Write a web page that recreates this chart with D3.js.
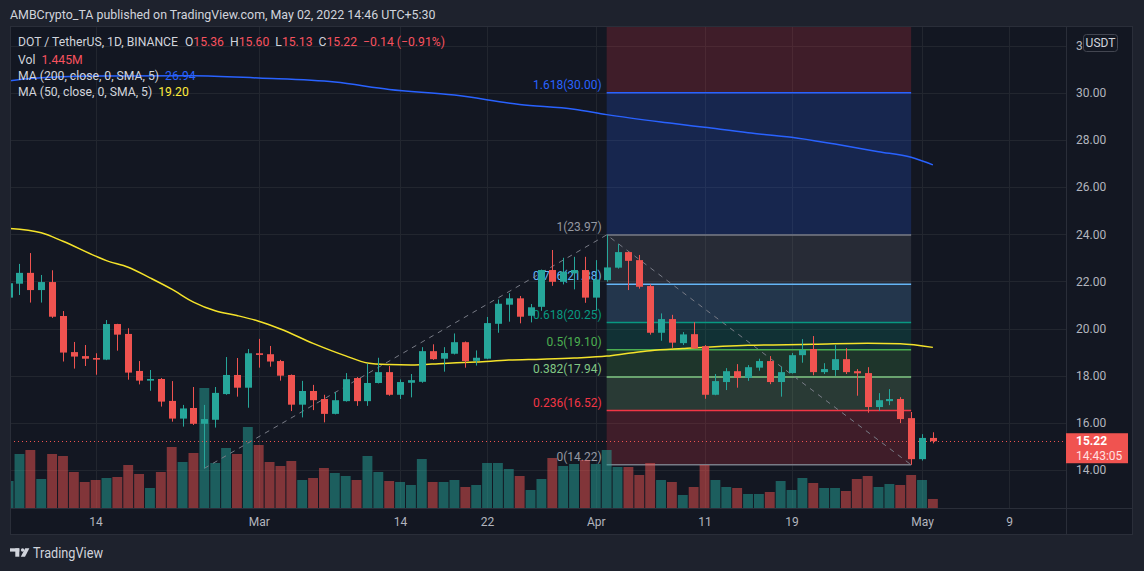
<!DOCTYPE html>
<html><head><meta charset="utf-8">
<script src="https://cdn.jsdelivr.net/npm/d3@7"></script>
<style>
html,body{margin:0;padding:0;background:#1e222d;}
svg{display:block;font-family:Roboto,"Noto Sans",sans-serif;}
</style></head><body>
<svg id="c" width="1144" height="571"></svg>
<script>
// ---------------- DATA ----------------
const firstDay = "2022-02-06";
const lastDay = "2022-05-02";
const openP = [21.31,21.90,22.36,21.63,21.97,20.53,19.00,18.83,18.75,18.68,20.19,19.77,18.20,17.79,17.86,16.93,16.18,16.63,15.96,16.13,17.22,18.03,17.49,
 18.95,18.91,18.62,18.03,16.77,17.35,17.01,16.38,16.92,17.90,16.92,17.69,18.15,17.19,17.70,17.74,19.04,18.72,18.93,19.42,18.63,18.72,20.20,21.01,21.28,20.54,20.92,22.48,21.98,22.34,22.48,
 21.31,22.05,22.58,23.24,22.90,21.80,19.82,20.40,19.38,19.76,19.25,17.19,17.73,18.19,17.91,18.34,18.62,17.73,18.11,18.87,19.13,18.15,18.24,18.70,18.19,18.11,16.67,16.92,17.01,16.20,
 14.46,15.36];
const highP = [22.05,22.74,23.20,22.27,22.47,20.74,19.43,19.30,18.95,20.36,20.20,20.01,18.62,18.24,17.90,17.77,16.76,17.52,16.76,17.52,18.79,18.75,19.13,
 19.56,19.26,18.67,18.05,17.78,17.61,17.19,17.30,18.11,17.94,18.51,18.76,18.41,17.84,18.07,19.21,19.33,19.21,19.79,19.45,19.07,20.49,21.23,21.50,21.38,21.04,22.50,23.33,23.00,23.04,23.04,
 22.90,23.97,23.58,23.26,23.12,21.87,20.64,20.58,19.85,20.27,19.30,18.07,18.32,18.49,18.45,18.72,18.83,18.38,18.96,19.55,19.68,18.53,19.30,19.17,18.28,18.36,17.26,17.43,17.09,16.46,
 15.52,15.60];
const lowP = [20.79,21.42,21.10,21.10,20.45,18.60,18.30,18.41,18.04,18.66,19.06,17.83,17.63,17.36,16.69,16.05,15.84,15.91,14.07,15.80,17.19,17.11,16.64,
 18.34,18.38,17.79,16.50,16.23,16.54,16.02,16.36,16.90,16.72,16.72,17.67,17.15,17.01,17.08,17.70,18.67,18.17,18.90,18.34,18.43,18.70,19.82,20.29,20.22,20.26,20.75,21.81,21.87,21.66,21.09,
 20.78,21.98,22.54,21.63,21.69,19.74,19.48,19.18,19.30,19.14,17.02,17.17,17.39,17.49,17.78,18.21,17.64,17.11,18.09,18.55,18.02,18.07,17.99,18.07,17.15,16.43,16.51,16.75,15.99,14.22,
 14.40,15.13];
const closeP = [21.92,22.36,21.63,21.97,20.50,18.98,18.81,18.72,18.68,20.19,19.74,18.13,17.79,17.86,16.90,16.18,16.61,15.96,16.16,17.27,18.03,17.49,18.95,
 18.88,18.60,18.00,16.77,17.35,16.96,16.38,16.96,17.85,16.92,17.69,18.15,17.19,17.73,17.81,19.04,18.70,18.96,19.42,18.62,18.76,20.23,21.05,21.28,20.50,20.90,22.48,21.98,22.41,22.48,21.31,
 22.08,22.59,23.24,22.87,21.77,19.82,20.40,19.40,19.75,19.16,17.19,17.77,18.19,17.91,18.36,18.62,17.73,18.15,18.87,19.09,18.15,18.28,18.70,18.15,18.10,16.67,16.96,17.01,16.16,14.46,
 15.36,15.22];
const volumeM = [4.32,8.64,9.28,4.64,8.64,8.32,5.76,4.16,4.48,4.80,4.96,6.88,5.44,3.20,5.76,9.76,7.36,8.80,19.20,7.20,9.60,8.64,12.96,
 10.08,7.36,6.72,7.52,4.48,4.80,6.40,5.60,5.12,4.48,8.32,5.76,4.32,4.16,3.68,7.84,4.16,4.16,4.48,3.36,3.68,7.20,7.20,6.24,5.12,2.88,4.64,8.00,6.72,7.04,7.68,
 7.04,9.28,6.56,6.56,5.28,7.20,4.48,4.16,2.08,3.36,6.88,4.48,3.36,3.20,2.24,2.24,2.56,4.32,2.88,4.80,4.00,3.20,3.20,2.72,4.64,5.12,3.36,3.84,3.68,5.28,
 4.48,1.445];

const ma200Dates = ["2022-02-06","2022-02-08","2022-02-14","2022-02-23","2022-03-01","2022-03-08","2022-03-13","2022-03-19","2022-03-25","2022-03-30","2022-04-02","2022-04-08","2022-04-11","2022-04-15","2022-04-19","2022-04-23","2022-04-27","2022-04-30","2022-05-02"];
const ma200Vals  = [30.50,30.60,30.71,30.72,30.62,30.45,30.14,29.90,29.50,29.30,29.07,28.70,28.53,28.30,28.11,27.82,27.50,27.26,26.94];
const ma50Dates = ["2022-02-06","2022-02-09","2022-02-11","2022-02-14","2022-02-15","2022-02-17","2022-02-19","2022-02-21","2022-02-23","2022-02-25","2022-02-27","2022-03-01","2022-03-03","2022-03-06","2022-03-09","2022-03-11","2022-03-13","2022-03-15","2022-03-18","2022-03-21","2022-03-24","2022-03-27","2022-03-30","2022-04-02","2022-04-04","2022-04-06","2022-04-09","2022-04-15","2022-04-21","2022-04-26","2022-04-29","2022-05-02"];
const ma50Vals  = [24.25,24.06,23.70,23.07,22.88,22.60,22.15,21.67,21.12,20.75,20.55,20.31,19.98,19.37,18.84,18.54,18.47,18.45,18.52,18.58,18.66,18.70,18.75,18.83,18.95,19.06,19.15,19.29,19.33,19.38,19.35,19.20];

const fibRatios = ["0","0.236","0.382","0.5","0.618","0.786","1","1.618"];
const fibPrices = [14.22,16.52,17.94,19.10,20.25,21.88,23.97,30.00];
const fibColors = ["#787b86","#f23645","#81c784","#4caf50","#089981","#64b5f6","#787b86","#2962ff"];
const fibTopRatio = 2.618, fibTopColor = "#f23645";
const fibStart = "2022-04-02", fibEnd = "2022-04-30";

const trendDates = ["2022-02-24","2022-04-02","2022-04-30"];
const trendPrices = [14.07,23.97,14.22];

const priceTicks = [14,16,18,20,22,24,26,28,30,32];
const timeTicks = ["2022-02-14","2022-03-01","2022-03-14","2022-03-22","2022-04-01","2022-04-11","2022-04-19","2022-05-01","2022-05-09"];
const lastPrice = 15.22, countdown = "14:43:05";

// ---------------- LAYOUT ----------------
const L = 10, R = 1066, T = 27, B = 508, AXR = 1133, AXB = 535;
const parse = d3.utcParse("%Y-%m-%d");
const days = d3.utcDay.range(parse(firstDay), d3.utcDay.offset(parse(lastDay), 1));
const bars = days.map((d, i) => ({d, o: openP[i], h: highP[i], l: lowP[i], c: closeP[i], v: volumeM[i]}));

const x = d3.scaleUtc().domain([parse("2022-02-06"), parse("2022-05-09")]).range([8.6, 1009.0]);
const y = d3.scaleLinear().domain([14, 30]).range([470.0, 92.7]);
const yv = d3.scaleLinear().domain([0, 19.2]).range([B, 388]);
const step = x(parse("2022-02-07")) - x(parse("2022-02-06"));

const UP = "#26a69a", DN = "#ef5350";
const svg = d3.select("#c");
svg.append("rect").attr("width", 1144).attr("height", 571).attr("fill", "#1e222d");
svg.append("rect").attr("x", L).attr("y", T).attr("width", AXR - L).attr("height", AXB - T).attr("fill", "#131722");

// header
svg.append("text").attr("x", 10).attr("y", 15).attr("dy", "0.35em").attr("fill", "#d1d4dc")
  .attr("font-size", 12.4).text("AMBCrypto_TA published on TradingView.com, May 02, 2022 14:46 UTC+5:30");

const defs = svg.append("defs");
defs.append("clipPath").attr("id", "pane").append("rect").attr("x", L).attr("y", T).attr("width", R - L).attr("height", B - T);
const pane = svg.append("g").attr("clip-path", "url(#pane)");

// grid
const gridC = "#22262f";
pane.append("g").selectAll("line").data(priceTicks).join("line")
  .attr("x1", L).attr("x2", R).attr("y1", d => Math.round(y(d)) + 0.5).attr("y2", d => Math.round(y(d)) + 0.5)
  .attr("stroke", gridC);
pane.append("g").selectAll("line").data(timeTicks).join("line")
  .attr("y1", T).attr("y2", B).attr("x1", d => Math.round(x(parse(d))) + 0.5).attr("x2", d => Math.round(x(parse(d))) + 0.5)
  .attr("stroke", gridC);

// fib bands
const fx0 = x(parse(fibStart)), fx1 = x(parse(fibEnd));
const topPrice = fibPrices[0] + fibTopRatio * (fibPrices[6] - fibPrices[0]);
const bandEdges = fibPrices.concat([topPrice]);
const bandColors = fibColors.slice(1).concat([fibTopColor]);
const fibG = pane.append("g");
fibG.selectAll("rect").data(d3.range(bandEdges.length - 1)).join("rect")
  .attr("x", fx0).attr("width", fx1 - fx0)
  .attr("y", i => y(bandEdges[i + 1])).attr("height", i => y(bandEdges[i]) - y(bandEdges[i + 1]))
  .attr("fill", i => bandColors[i]).attr("fill-opacity", 0.2);

// volume
pane.append("g").selectAll("rect").data(bars).join("rect")
  .attr("x", d => x(d.d) - step / 2 + 0.5).attr("width", step - 1)
  .attr("y", d => yv(d.v)).attr("height", d => B - yv(d.v))
  .attr("fill", d => d.c >= d.o ? UP : DN).attr("fill-opacity", 0.5);

// fib lines + labels
fibG.append("g").selectAll("line").data(fibPrices).join("line")
  .attr("x1", fx0).attr("x2", fx1).attr("y1", d => y(d)).attr("y2", d => y(d))
  .attr("stroke", (d, i) => fibColors[i]).attr("stroke-width", 1.5);
fibG.append("g").selectAll("text").data(fibPrices).join("text")
  .attr("x", fx0 - 5).attr("y", d => y(d) - 4).attr("text-anchor", "end").attr("font-size", 12)
  .attr("fill", (d, i) => i === 0 || i === 6 ? "#9598a1" : fibColors[i])
  .text((d, i) => `${fibRatios[i]}(${d.toFixed(2)})`);

// trend line
pane.append("path").datum(trendDates.map((d, i) => [x(parse(d)), y(trendPrices[i])]))
  .attr("d", d3.line()).attr("fill", "none").attr("stroke", "#787b86").attr("stroke-width", 1)
  .attr("stroke-dasharray", "5,5");

// MA lines
const maLine = d3.line().x(d => x(d[0])).y(d => y(d[1])).curve(d3.curveMonotoneX);
pane.append("path").datum(ma200Dates.map((d, i) => [parse(d), ma200Vals[i]]))
  .attr("d", maLine).attr("fill", "none").attr("stroke", "#2962ff").attr("stroke-width", 1.5);
pane.append("path").datum(ma50Dates.map((d, i) => [parse(d), ma50Vals[i]]))
  .attr("d", maLine).attr("fill", "none").attr("stroke", "#f5e32a").attr("stroke-width", 1.5);

// last price dotted line
pane.append("line").attr("x1", L).attr("x2", R).attr("y1", Math.round(y(lastPrice)) + 0.5).attr("y2", Math.round(y(lastPrice)) + 0.5)
  .attr("stroke", DN).attr("stroke-dasharray", "1,3");

// candles
const cg = pane.append("g").selectAll("g").data(bars).join("g");
cg.append("line")
  .attr("x1", d => Math.round(x(d.d)) + 0.5).attr("x2", d => Math.round(x(d.d)) + 0.5)
  .attr("y1", d => y(d.h)).attr("y2", d => y(d.l))
  .attr("stroke", d => d.c >= d.o ? UP : DN);
cg.append("rect")
  .attr("x", d => Math.round(x(d.d)) - 3).attr("width", 7)
  .attr("y", d => y(Math.max(d.o, d.c))).attr("height", d => Math.max(1, Math.abs(y(d.o) - y(d.c))))
  .attr("fill", d => d.c >= d.o ? UP : DN);

// separators / borders
const bc = "#2a2e39";
svg.append("line").attr("x1", R + 0.5).attr("x2", R + 0.5).attr("y1", T).attr("y2", AXB).attr("stroke", bc);
svg.append("line").attr("x1", L).attr("x2", AXR).attr("y1", B + 0.5).attr("y2", B + 0.5).attr("stroke", bc);
svg.append("rect").attr("x", L + 0.5).attr("y", T - 0.5).attr("width", AXR - L - 1).attr("height", AXB - T).attr("fill", "none").attr("stroke", bc);

// price axis (top label at 32 is hidden behind the currency badge, only its "3" shows)
const pa = svg.append("g").attr("transform", `translate(${R},0)`)
  .call(d3.axisRight(y).tickValues(priceTicks)
    .tickFormat(d => d === 32 ? "3" : d3.format(".2f")(d)).tickSize(0).tickPadding(10));
pa.select(".domain").remove();
pa.selectAll("text").attr("fill", "#b2b5be").attr("font-size", 12).attr("font-family", "Roboto,sans-serif");

// USDT badge
svg.append("rect").attr("x", 1083.5).attr("y", 34.5).attr("width", 34).attr("height", 17).attr("rx", 3)
  .attr("fill", "#131722").attr("stroke", "#434651");
svg.append("text").attr("x", 1100.5).attr("y", 43).attr("dy", "0.35em").attr("text-anchor", "middle")
  .attr("fill", "#d1d4dc").attr("font-size", 12).text("USDT");

// last price box
const ly = y(lastPrice);
svg.append("rect").attr("x", R).attr("y", ly - 8).attr("width", 62).attr("height", 30).attr("fill", "#f05350");
svg.append("text").attr("x", 1076).attr("y", ly).attr("dy", "0.35em").attr("fill", "#ffffff")
  .attr("font-size", 12).attr("font-weight", "bold").text(lastPrice.toFixed(2));
svg.append("text").attr("x", 1076).attr("y", ly + 14.5).attr("dy", "0.35em").attr("fill", "#ffe0e0")
  .attr("font-size", 12).text(countdown);

// time axis
const ta = svg.append("g").attr("transform", `translate(0,${B})`)
  .call(d3.axisBottom(x).tickValues(timeTicks.map(parse))
    .tickFormat(d => d.getUTCDate() === 1 ? d3.utcFormat("%b")(d) : d3.utcFormat("%-d")(d))
    .tickSize(0).tickPadding(9));
ta.select(".domain").remove();
ta.selectAll("text").attr("fill", "#b2b5be").attr("font-size", 12).attr("font-family", "Roboto,sans-serif");

// legend
const lg = svg.append("g").attr("font-size", 12.2);
const t1 = lg.append("text").attr("x", 18).attr("y", 42).attr("dy", "0.35em").attr("fill", "#d1d4dc");
t1.append("tspan").text("DOT / TetherUS, 1D, BINANCE");
const last = bars[bars.length - 1];
[["O", last.o], ["H", last.h], ["L", last.l], ["C", last.c]].forEach(([k, v], i) => {
  t1.append("tspan").attr("dx", i === 0 ? 7 : 6).attr("fill", "#d1d4dc").text(k);
  t1.append("tspan").attr("fill", "#f7525f").text(v.toFixed(2));
});
const prev = bars[bars.length - 2].c;
t1.append("tspan").attr("dx", 6).attr("fill", "#f7525f")
  .text(`\u2212${(prev - last.c).toFixed(2)} (\u2212${((prev - last.c) / prev * 100).toFixed(2)}%)`);

const t2 = lg.append("text").attr("x", 18).attr("y", 59.5).attr("dy", "0.35em").attr("fill", "#d1d4dc");
t2.append("tspan").text("Vol");
t2.append("tspan").attr("dx", 6).attr("fill", "#f7525f").text(d3.format(".3f")(last.v) + "M");
const t3 = lg.append("text").attr("x", 18).attr("y", 76).attr("dy", "0.35em").attr("fill", "#d1d4dc");
t3.append("tspan").text("MA (200, close, 0, SMA, 5)");
t3.append("tspan").attr("dx", 6).attr("fill", "#2962ff").text(ma200Vals[ma200Vals.length - 1].toFixed(2));
const t4 = lg.append("text").attr("x", 18).attr("y", 92).attr("dy", "0.35em").attr("fill", "#d1d4dc");
t4.append("tspan").text("MA (50, close, 0, SMA, 5)");
t4.append("tspan").attr("dx", 6).attr("fill", "#ffeb3b").text(ma50Vals[ma50Vals.length - 1].toFixed(2));

// footer logo
const lo = svg.append("g").attr("fill", "#d1d4dc");
lo.append("rect").attr("x", 10).attr("y", 548.3).attr("width", 9.3).attr("height", 3.3);
lo.append("rect").attr("x", 15.3).attr("y", 548.3).attr("width", 4).attr("height", 8.4);
lo.append("circle").attr("cx", 22.6).attr("cy", 550).attr("r", 1.7);
lo.append("polygon").attr("points", "25.2,548.3 29.4,548.3 25.0,556.7 20.8,556.7");
lo.append("text").attr("x", 33).attr("y", 553).attr("dy", "0.35em").attr("font-size", 14)
  .attr("textLength", 70).attr("lengthAdjust", "spacingAndGlyphs").text("TradingView");
</script>
</body></html>
